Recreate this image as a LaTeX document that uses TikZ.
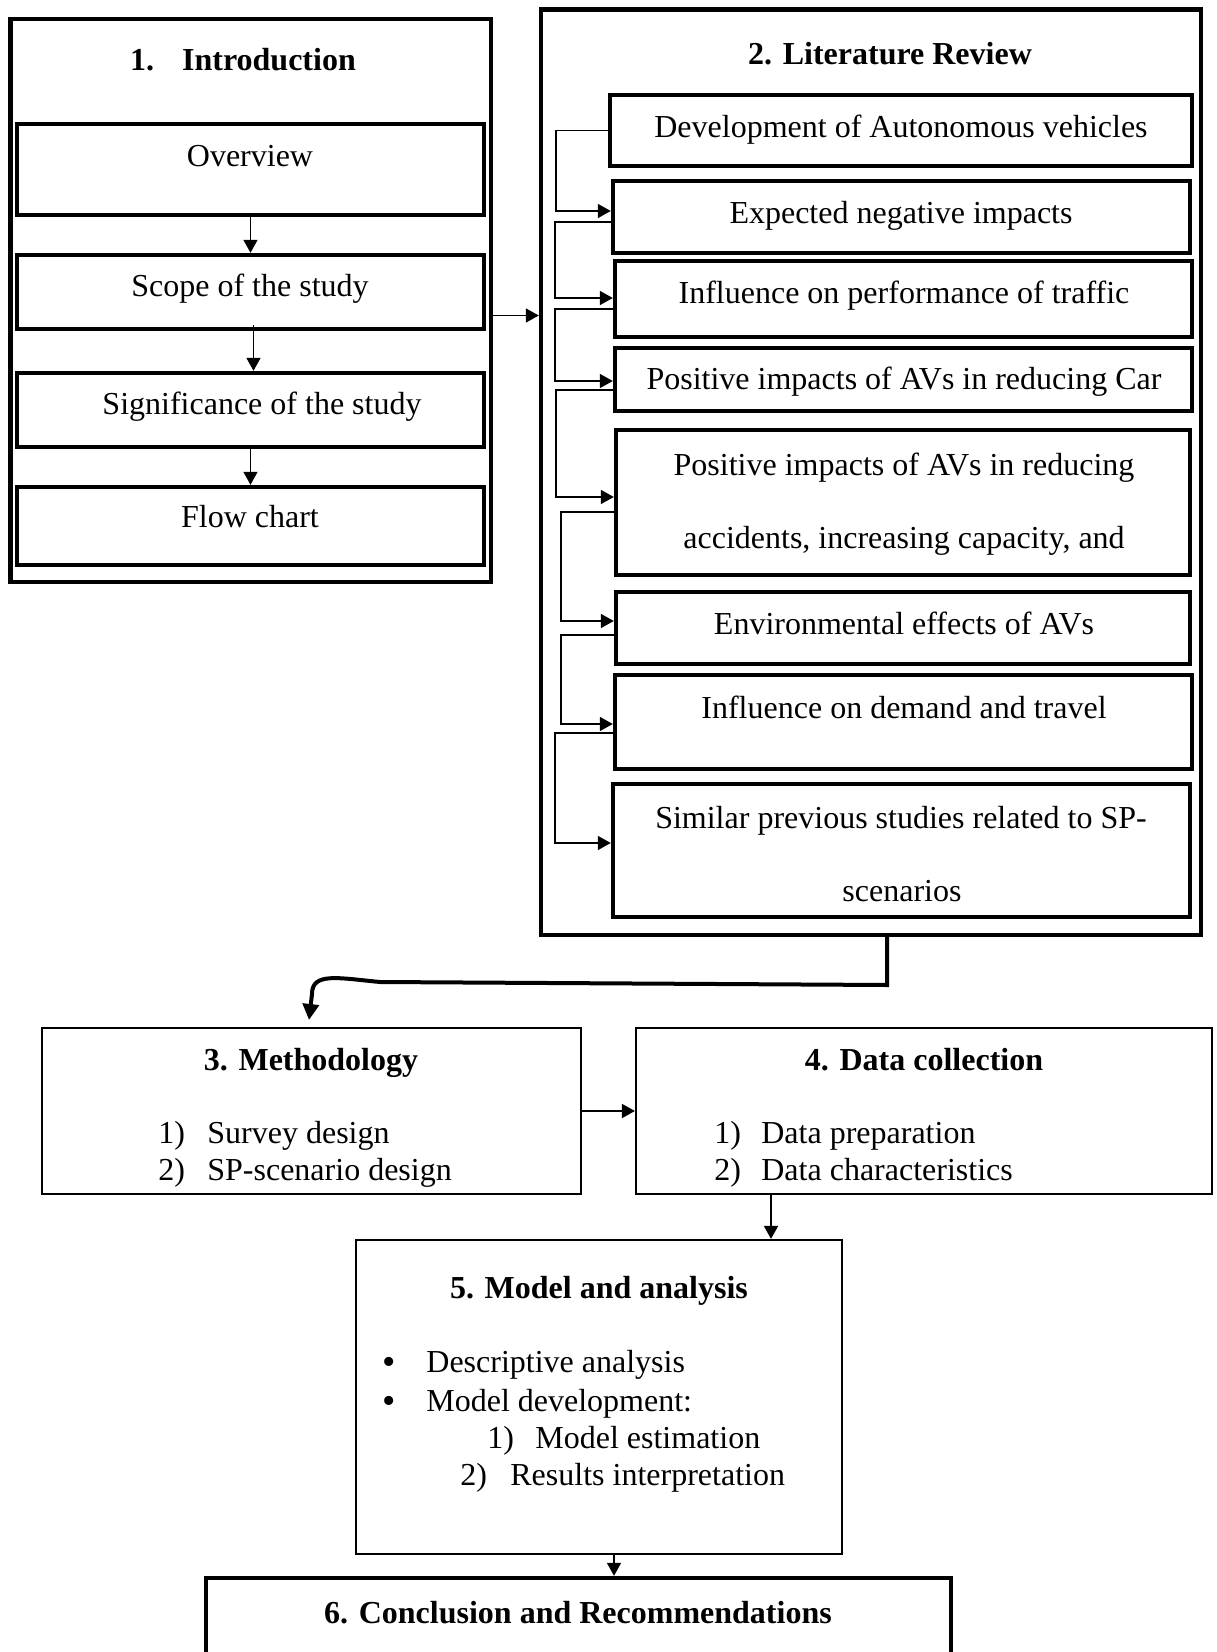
\documentclass[tikz,border=0pt]{standalone}
\usepackage{fontspec}
\setmainfont{Liberation Serif}
\usetikzlibrary{arrows.meta,calc,fit}
\tikzset{
  bx/.style={draw, line width=2.2pt, inner sep=0pt},
  thinbx/.style={draw, line width=1.1pt, inner sep=0pt},
  txt/.style={inner sep=0pt, font=\fontsize{16}{19}\selectfont, text height=11pt, text depth=3pt, yshift=-1.5pt},
  ttl/.style={txt, font=\fontsize{16}{19}\selectfont\bfseries},
  lst/.style={txt, anchor=west},
  conn/.style={line width=0.8pt, -{Triangle[length=6.5pt,width=7pt]}},
  bigconn/.style={line width=2pt, -{Triangle[length=8pt,width=8pt]}},
}
\newcommand{\bigbul}{\raisebox{-1.2pt}{\fontsize{19}{19}\selectfont •}}
\begin{document}
\begin{tikzpicture}[x=0.5pt,y=-0.5pt]
\path[use as bounding box] (0,0) rectangle (1216,1652);
\clip (0,0) rectangle (1216,1652);

% ---------- 1. Introduction ----------
\node[bx, fit={(10.5,19) (491,582)}] (intro) {};
\node[ttl] (introt) at (243,60) {1.\hspace{14pt}Introduction};
\node[bx, fit={(17,124) (484,215)}] (ov) {};
\node[txt] (ovt) at (250,156) {Overview};
\node[bx, fit={(17,255) (484,329)}] (scope) {};
\node[txt] (scopet) at (250,286) {Scope of the study};
\node[bx, fit={(17,373) (484,447)}] (sig) {};
\node[txt] (sigt) at (262,404) {Significance of the study};
\node[bx, fit={(17,487) (484,565)}] (flow) {};
\node[txt] (flowt) at (250,516) {Flow chart};

\draw[conn] (ov.south) -- (scope.north);
\draw[conn] ($(scope.south)+(3,-6)$) -- ($(sig.north)+(3,0)$);
\draw[conn] (sig.south) -- (flow.north);

% ---------- 2. Literature Review ----------
\node[bx, fit={(541,9.5) (1201,935)}] (lit) {};
\node[ttl] (litt) at (890,54) {2. Literature Review};
\node[bx, fit={(610,95) (1192,166)}] (dev) {};
\node[txt] (devt) at (901,127) {Development of Autonomous vehicles};
\node[bx, fit={(613,181) (1190,253)}] (exp) {};
\node[txt] (expt) at (901,213) {Expected negative impacts};
\node[bx, fit={(615,261) (1192,337)}] (perf) {};
\node[txt] (perft) at (904,293) {Influence on performance of traffic};
\node[bx, fit={(615,348) (1192,411)}] (car) {};
\node[txt] (cart) at (904,379) {Positive impacts of AVs in reducing Car};
\node[bx, fit={(616,430) (1190,575)}] (pos) {};
\node[txt] (post1) at (904,464) {Positive impacts of AVs in reducing};
\node[txt] (post2) at (904,537) {accidents, increasing capacity, and};
\node[bx, fit={(616,592) (1190,664)}] (env) {};
\node[txt] (envt) at (904,623) {Environmental effects of AVs};
\node[bx, fit={(615,675) (1192,769)}] (dem) {};
\node[txt] (demt) at (904,707) {Influence on demand and travel};
\node[bx, fit={(613,784) (1190,917)}] (sim) {};
\node[txt] (simt1) at (901,817) {Similar previous studies related to SP-};
\node[txt] (simt2) at (902,890) {scenarios};

\draw[conn] (dev.west) -- ++(-52,0) |- ($(exp.west)+(0,-6)$);
\draw[conn] ($(exp.west)+(0,5)$) -- ++(-56,0) |- ($(perf.west)+(0,-1)$);
\draw[conn] ($(perf.west)+(0,10)$) -- ++(-58,0) |- ($(car.west)+(0,1.5)$);
\draw[conn] ($(car.west)+(0,10.5)$) -- ++(-57,0) |- ($(pos.west)+(0,-5.5)$);
\draw[conn] ($(pos.west)+(0,9.5)$) -- ++(-53,0) |- ($(env.west)+(0,-7)$);
\draw[conn] ($(env.west)+(0,7)$) -- ++(-53,0) |- ($(dem.west)+(0,2)$);
\draw[conn] ($(dem.west)+(0,11)$) -- ++(-58,0) |- ($(sim.west)+(0,-7.5)$);

\coordinate (il) at ($(intro.east)+(0,15)$);
\draw[conn] (il) -- (il -| lit.west);

% ---------- 3. Methodology ----------
\node[thinbx, fit={(42,1028) (581,1194)}] (meth) {};
\node[ttl] (metht) at (311,1059) {3. Methodology};
\node[lst] (m1) at (158,1132) {\makebox[24.5pt][l]{1)}Survey design};
\node[lst] (m2) at (158,1169) {\makebox[24.5pt][l]{2)}SP-scenario design};

% ---------- 4. Data collection ----------
\node[thinbx, fit={(636,1028) (1212,1194)}] (data) {};
\node[ttl] (datat) at (924,1059) {4. Data collection};
\node[lst] (d1) at (714,1132) {\makebox[23.5pt][l]{1)}Data preparation};
\node[lst] (d2) at (714,1169) {\makebox[23.5pt][l]{2)}Data characteristics};

% Literature -> Methodology
\coordinate (lm0) at ($(lit.south)+(16,0)$);
\coordinate (lm1) at (887,985);
\coordinate (lm2) at (380,982);
\coordinate (lm3) at (309,1020);
\draw[bigconn] (lm0) -- (lm1) -- (lm2) .. controls (338,978) and (312,972) .. (312,994) -- (lm3);

\draw[conn] (meth.east) -- (data.west);

% ---------- 5. Model and analysis ----------
\node[thinbx, fit={(356,1240) (842,1554)}] (model) {};
\node[ttl] (modelt) at (599,1287) {5. Model and analysis};
\node[lst] (b1) at (382,1361) {\makebox[22pt][l]{\bigbul}Descriptive analysis};
\node[lst] (b2) at (382,1400) {\makebox[22pt][l]{\bigbul}Model development:};
\node[lst] (b3) at (487,1437) {\makebox[24pt][l]{1)}Model estimation};
\node[lst] (b4) at (460,1474) {\makebox[25pt][l]{2)}Results interpretation};

\coordinate (c1) at ($(data.south)+(-153,0)$);
\draw[conn] (c1) -- (c1 |- model.north);

% ---------- 6. Conclusion ----------
\node[bx, fit={(206,1578) (951,1700)}] (concl) {};
\node[ttl] (conclt) at (578,1612) {6. Conclusion and Recommendations};

\coordinate (c2) at ($(model.south)+(15,0)$);
\draw[conn] (c2) -- (c2 |- concl.north);
\end{tikzpicture}
\end{document}
